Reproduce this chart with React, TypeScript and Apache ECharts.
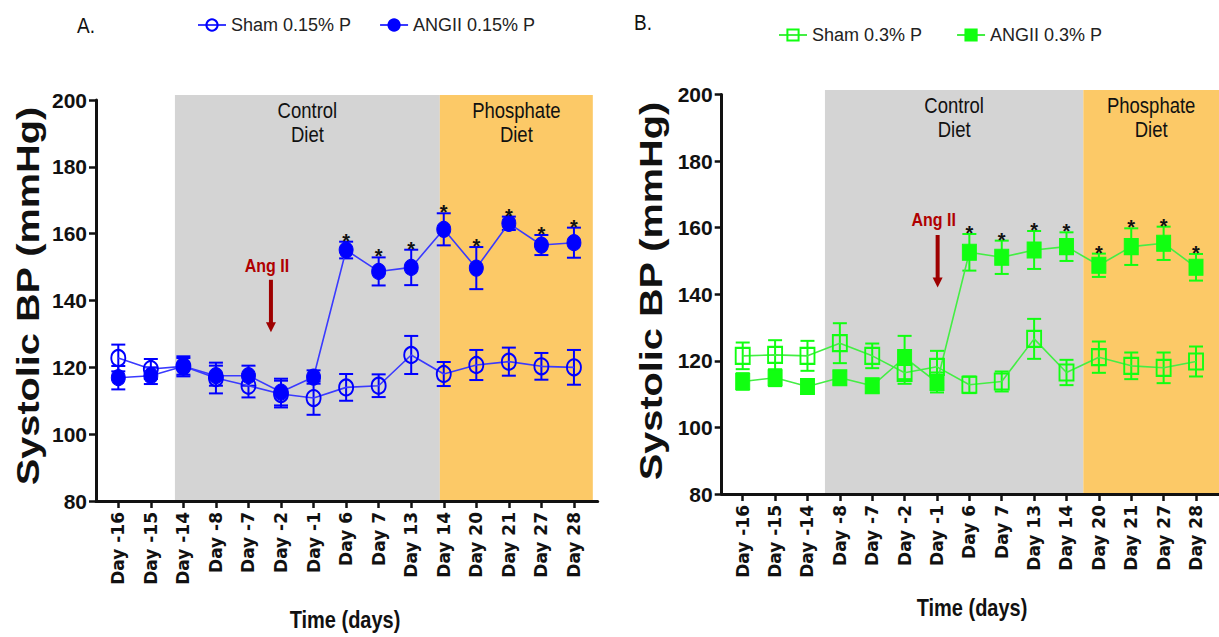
import React, { useEffect, useRef } from 'react';
import * as echarts from 'echarts';

// ---------- data ----------
const dayLabels = ['Day -16', 'Day -15', 'Day -14', 'Day -8', 'Day -7', 'Day -2', 'Day -1', 'Day 6', 'Day 7', 'Day 13', 'Day 14', 'Day 20', 'Day 21', 'Day 27', 'Day 28'];
const yTicks = [80, 100, 120, 140, 160, 180, 200];

const shamA = [122.8, 119.5, 120.3, 116.8, 114.5, 112.0, 110.8, 114.0, 114.5, 123.7, 118.0, 120.7, 121.7, 120.3, 120.0];
const shamAErr = [4, 3, 3, 4.6, 3.5, 4, 5, 4, 3.4, 5.7, 3.6, 4.5, 4.2, 4, 5.2];
const angA = [116.9, 117.5, 120.3, 117.5, 117.5, 112.6, 117.1, 155.1, 148.7, 149.9, 161.3, 149.7, 163.1, 156.6, 157.3];
const angAErr = [3.5, 2.5, 2.5, 3, 3, 4, 2, 2.5, 4.2, 5.3, 4.8, 6.3, 2, 3, 4.5];
const sigA = [0, 0, 0, 0, 0, 0, 0, 1, 1, 1, 1, 1, 1, 1, 1];

const shamB = [121.5, 121.8, 121.5, 125.3, 121.5, 116.4, 118.2, 112.8, 113.8, 126.6, 116.5, 121.1, 118.5, 117.9, 119.8];
const shamBErr = [4, 4.4, 4.5, 6, 3.7, 3.3, 4.8, 2.5, 3, 6, 3.8, 4.7, 4, 4.6, 4.5];
const angB = [113.8, 114.9, 112.3, 114.9, 112.5, 121.0, 113.5, 152.6, 151.1, 153.3, 154.3, 148.7, 154.3, 155.3, 148.1];
const angBErr = [2.5, 2.5, 2, 2, 2, 6.5, 3, 5.5, 5, 5.7, 4.3, 3.5, 5.5, 5, 4];
const sigB = [0, 0, 0, 0, 0, 0, 0, 1, 1, 1, 1, 1, 1, 1, 1];

// diet periods (in category-index units)
const periodsA = [
  { from: 1.74, to: 9.88, label: 'Control\nDiet', kind: 'control' },
  { from: 9.88, to: 14.58, label: 'Phosphate\nDiet', kind: 'phosphate' },
];
const periodsB = [
  { from: 2.54, to: 10.52, label: 'Control\nDiet', kind: 'control' },
  { from: 10.52, to: 14.71, label: 'Phosphate\nDiet', kind: 'phosphate' },
];
// Ang II arrow: [x index, arrow top value, arrow bottom value, label value]
const angArrowA = [[4.69, 146.2, 130.5, 150.5]];
const angArrowB = [[6.02, 157.8, 142.0, 162.3]];

// ---------- styles ----------
const SANS = "'Liberation Sans', Arial, sans-serif";
const XLAB = "'DejaVu Sans', sans-serif";
const GRAY = '#d4d4d4';
const ORANGE = '#fcc967';
const BLUE = '#0000ff';
const BLUE_LINE = '#3a3aff';
const GREEN = '#11ff11';
const GREEN_LINE = '#44ee44';
const DARKRED = '#9e0000';
const TALL = 1.17; // vertical stretch of the original figure's text

const periodColor: Record<string, string> = { control: GRAY, phosphate: ORANGE };

function xAxisCfg(gridIndex: number, min: number, max: number) {
  const idx = dayLabels.map((_, i) => i);
  return {
    type: 'value', gridIndex, min, max, z: 10,
    splitLine: { show: false },
    axisLine: { show: true, onZero: false, lineStyle: { color: '#111', width: 3 } },
    axisTick: { show: true, customValues: idx, length: 7, lineStyle: { color: '#111', width: 2.5 } },
    axisLabel: {
      customValues: idx, rotate: 90, margin: 11,
      formatter: (v: number) => dayLabels[Math.round(v)] ?? '',
      fontFamily: XLAB, fontWeight: 'bold', fontSize: 17, color: '#111',
    },
  };
}
function yAxisCfg(gridIndex: number) {
  return {
    type: 'value', gridIndex, min: yTicks[0], max: yTicks[yTicks.length - 1], interval: 20, z: 10,
    splitLine: { show: false },
    axisLine: { show: true, onZero: false, lineStyle: { color: '#111', width: 3 } },
    axisTick: { show: true, length: 7, lineStyle: { color: '#111', width: 2.5 } },
    axisLabel: { margin: 9, fontFamily: SANS, fontWeight: 'bold', fontSize: 21, color: '#111' },
  };
}

function periodSeries(ax: number, periods: any[], topVal: number) {
  return {
    type: 'custom', xAxisIndex: ax, yAxisIndex: ax, clip: false, z: 1, silent: true,
    data: periods.map((p) => [p.from, p.to]),
    renderItem: (params: any, api: any) => {
      const p = periods[params.dataIndex];
      const a = api.coord([p.from, yTicks[0]]);
      const b = api.coord([p.to, topVal]);
      return {
        type: 'group',
        children: [
          { type: 'rect', shape: { x: a[0], y: b[1], width: b[0] - a[0], height: a[1] - b[1] }, style: { fill: periodColor[p.kind] } },
          {
            type: 'text', x: (a[0] + b[0]) / 2, y: b[1] + 4, scaleY: TALL,
            style: { text: p.label, font: `18.5px ${SANS}`, fill: '#111', align: 'center', verticalAlign: 'top', lineHeight: 20 },
          },
        ],
      };
    },
  };
}

function lineSeries(ax: number, name: string, vals: number[], symbol: string, filled: boolean, color: string, lineColor: string, size: number[]) {
  return {
    type: 'line', name, xAxisIndex: ax, yAxisIndex: ax, z: 4,
    data: vals.map((v, i) => [i, v]),
    symbol, symbolSize: size, showSymbol: true,
    lineStyle: { color: lineColor, width: 1.6 },
    itemStyle: filled ? { color, borderColor: color, borderWidth: 1 } : { color: 'rgba(0,0,0,0)', borderColor: color, borderWidth: 2 },
  };
}

function errSeries(ax: number, vals: number[], errs: number[], color: string) {
  return {
    type: 'custom', xAxisIndex: ax, yAxisIndex: ax, z: 3, silent: true,
    data: vals.map((v, i) => [i, v - errs[i], v + errs[i]]),
    encode: { x: 0, y: [1, 2] },
    renderItem: (params: any, api: any) => {
      const x = api.value(0);
      const t = api.coord([x, api.value(2)]);
      const b = api.coord([x, api.value(1)]);
      const hw = 7;
      const st = { stroke: color, lineWidth: 2 };
      return {
        type: 'group',
        children: [
          { type: 'line', shape: { x1: t[0], y1: t[1], x2: b[0], y2: b[1] }, style: st },
          { type: 'line', shape: { x1: t[0] - hw, y1: t[1], x2: t[0] + hw, y2: t[1] }, style: st },
          { type: 'line', shape: { x1: b[0] - hw, y1: b[1], x2: b[0] + hw, y2: b[1] }, style: st },
        ],
      };
    },
  };
}

function starSeries(ax: number, vals: number[], errs: number[], sig: number[]) {
  const data = vals.map((v, i) => [i, v + errs[i]]).filter((_, i) => sig[i]);
  return {
    type: 'custom', xAxisIndex: ax, yAxisIndex: ax, z: 5, silent: true,
    data,
    renderItem: (params: any, api: any) => {
      const p = api.coord([api.value(0), api.value(1)]);
      return {
        type: 'text', x: p[0], y: p[1] + 9,
        style: { text: '*', font: `bold 20px ${SANS}`, fill: '#111', align: 'center', verticalAlign: 'bottom' },
      };
    },
  };
}

function arrowSeries(ax: number, arr: number[][]) {
  return {
    type: 'custom', xAxisIndex: ax, yAxisIndex: ax, z: 5, silent: true,
    data: arr,
    renderItem: (params: any, api: any) => {
      const x = api.value(0);
      const t = api.coord([x, api.value(1)]);
      const b = api.coord([x, api.value(2)]);
      const l = api.coord([x, api.value(3)]);
      const head = 10;
      return {
        type: 'group',
        children: [
          { type: 'text', x: l[0] - 4, y: l[1], scaleY: TALL, style: { text: 'Ang II', font: `bold 16px ${SANS}`, fill: '#b00000', align: 'center', verticalAlign: 'middle' } },
          { type: 'line', shape: { x1: t[0], y1: t[1], x2: b[0], y2: b[1] - head + 2 }, style: { stroke: DARKRED, lineWidth: 4 } },
          { type: 'polygon', shape: { points: [[b[0] - 5, b[1] - head], [b[0] + 5, b[1] - head], [b[0], b[1]]] }, style: { fill: DARKRED } },
        ],
      };
    },
  };
}

export default function App() {
  const ref = useRef<HTMLDivElement>(null);
  useEffect(() => {
    if (!ref.current) return;
    const chart = echarts.init(ref.current, undefined, { renderer: 'svg' });
    const option: any = {
      animation: false,
      backgroundColor: '#ffffff',
      grid: [
        { left: 96, top: 100, width: 501.7, height: 401 },
        { left: 721.7, top: 94.5, width: 497.3, height: 399.5 },
      ],
      xAxis: [xAxisCfg(0, -0.685, 14.73), xAxisCfg(1, -0.649, 14.71)],
      yAxis: [yAxisCfg(0), yAxisCfg(1)],
      legend: [
        {
          data: ['Sham 0.15% P', 'ANGII 0.15% P'], left: 192, top: 11, itemWidth: 28, itemHeight: 14, itemGap: 28,
          textStyle: { fontFamily: SANS, fontSize: 18, color: '#222' },
        },
        {
          data: ['Sham 0.3% P', 'ANGII 0.3% P'], left: 773, top: 21, itemWidth: 28, itemHeight: 14, itemGap: 34,
          textStyle: { fontFamily: SANS, fontSize: 18, color: '#222' },
        },
      ],
      graphic: [
        { type: 'text', x: 77, y: 25, scaleY: TALL, style: { text: 'A.', font: `19px ${SANS}`, fill: '#111', verticalAlign: 'middle' } },
        { type: 'text', x: 634, y: 22, scaleY: TALL, style: { text: 'B.', font: `19px ${SANS}`, fill: '#111', verticalAlign: 'middle' } },
        { type: 'text', x: 29, y: 296, rotation: Math.PI / 2, scaleX: 1.28, style: { text: 'Systolic BP (mmHg)', font: `bold 31px ${SANS}`, fill: '#111', align: 'center', verticalAlign: 'middle' } },
        { type: 'text', x: 652, y: 291, rotation: Math.PI / 2, scaleX: 1.28, style: { text: 'Systolic BP (mmHg)', font: `bold 31px ${SANS}`, fill: '#111', align: 'center', verticalAlign: 'middle' } },
        { type: 'text', x: 345, y: 620, scaleY: TALL, style: { text: 'Time (days)', font: `bold 20px ${SANS}`, fill: '#111', align: 'center', verticalAlign: 'middle' } },
        { type: 'text', x: 972, y: 608, scaleY: TALL, style: { text: 'Time (days)', font: `bold 20px ${SANS}`, fill: '#111', align: 'center', verticalAlign: 'middle' } },
      ],
      series: [
        periodSeries(0, periodsA, 201.5),
        periodSeries(1, periodsB, 201.35),
        errSeries(0, shamA, shamAErr, BLUE),
        errSeries(0, angA, angAErr, BLUE),
        lineSeries(0, 'Sham 0.15% P', shamA, 'circle', false, BLUE, BLUE_LINE, [14, 16]),
        lineSeries(0, 'ANGII 0.15% P', angA, 'circle', true, BLUE, BLUE_LINE, [14, 16]),
        starSeries(0, angA, angAErr, sigA),
        arrowSeries(0, angArrowA),
        errSeries(1, shamB, shamBErr, GREEN),
        errSeries(1, angB, angBErr, GREEN),
        lineSeries(1, 'Sham 0.3% P', shamB, 'rect', false, GREEN, GREEN_LINE, [14, 16]),
        lineSeries(1, 'ANGII 0.3% P', angB, 'rect', true, GREEN, GREEN_LINE, [14, 16]),
        starSeries(1, angB, angBErr, sigB),
        arrowSeries(1, angArrowB),
      ],
    };
    chart.setOption(option);
    return () => chart.dispose();
  }, []);
  return <div ref={ref} style={{ position: 'absolute', left: 0, top: 0, width: 1219, height: 637 }} />;
}
